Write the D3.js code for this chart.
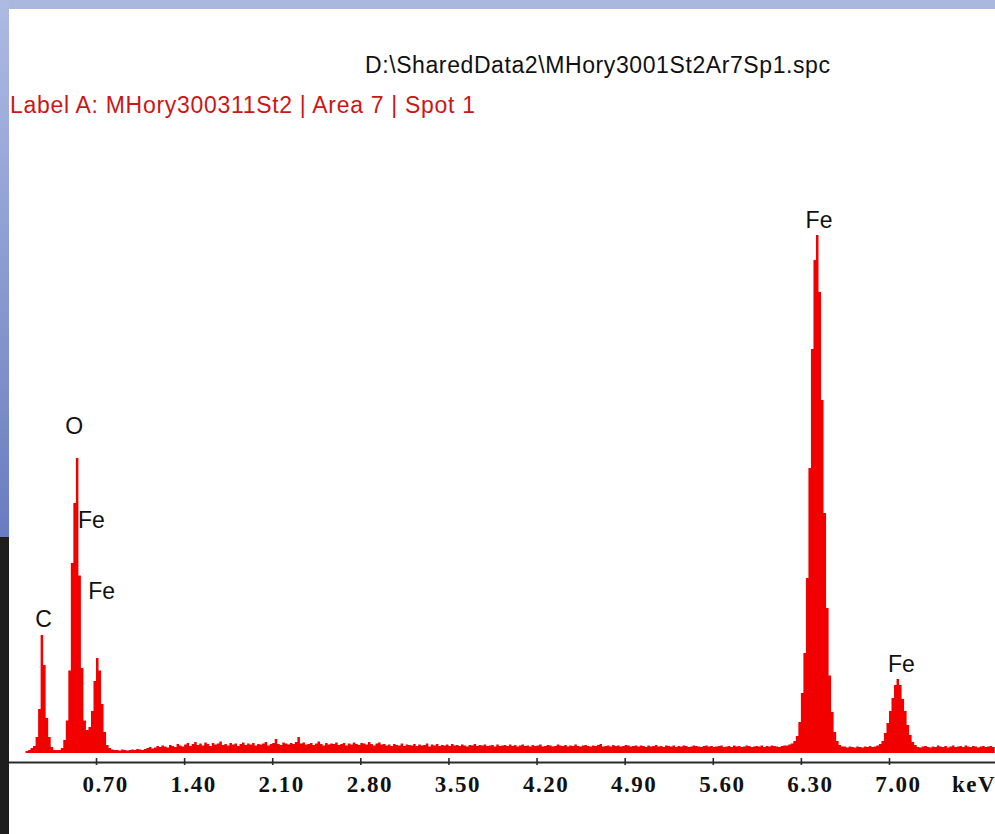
<!DOCTYPE html>
<html>
<head>
<meta charset="utf-8">
<script src="https://cdn.jsdelivr.net/npm/d3@7"></script>
<style>
  html, body { margin: 0; padding: 0; background: #fff; }
  svg { display: block; }
</style>
</head>
<body>
<svg id="chart" width="995" height="834"></svg>
<script>
// EDS spectrum, counts per 0.02 keV channel
const channelWidth = 0.02;

// 0.00 – 0.82 keV : C Kα, O Kα and Fe L lines
const lowStart = 0.00;
const lowCounts = [
  0, 0, 0, 0, 0, 0, 0, 8, 12, 20,
  28, 64, 176, 472, 352, 140, 64, 24, 12, 12,
  12, 20, 52, 130, 330, 760, 1000, 1180, 710, 340,
  130, 92, 104, 168, 288, 380, 330, 196, 84, 32,
  20
];

// 0.82 – 6.24 keV : continuum
const midStart = 0.82;
const midCounts = [
  14, 12, 12, 10, 14, 12, 10, 12, 14, 12,
  16, 14, 12, 16, 20, 24, 18, 22, 28, 24,
  30, 26, 22, 32, 28, 24, 36, 30, 26, 34,
  40, 28, 36, 44, 32, 38, 30, 42, 36, 28,
  40, 34, 38, 46, 32, 36, 30, 40, 34, 38,
  28, 36, 42, 32, 38, 34, 40, 30, 36, 34,
  38, 44, 30, 36, 40, 56, 36, 32, 42, 38,
  34, 40, 36, 44, 64, 38, 42, 34, 36, 40,
  32, 38, 46, 36, 30, 40, 34, 38, 36, 42,
  32, 36, 40, 30, 38, 34, 42, 36, 32, 40,
  38, 34, 44, 36, 30, 38, 42, 34, 36, 30,
  34, 28, 36, 32, 30, 38, 28, 34, 32, 30,
  36, 28, 34, 30, 32, 38, 26, 34, 30, 36,
  28, 32, 30, 34, 28, 36, 30, 32, 28, 34,
  30, 26, 32, 30, 36, 28, 32, 30, 34, 28,
  30, 32, 26, 34, 28, 30, 32, 28, 34, 28,
  32, 26, 30, 34, 28, 30, 26, 32, 28, 30,
  34, 26, 28, 32, 30, 26, 28, 34, 30, 28,
  32, 26, 30, 28, 34, 28, 26, 30, 32, 28,
  26, 30, 28, 32, 36, 26, 28, 30, 26, 32,
  28, 30, 26, 28, 32, 30, 26, 28, 30, 26,
  30, 28, 24, 30, 26, 28, 32, 26, 28, 24,
  30, 28, 26, 30, 24, 28, 26, 30, 28, 24,
  26, 30, 28, 26, 24, 28, 30, 26, 28, 24,
  26, 28, 30, 24, 26, 28, 24, 30, 26, 28,
  24, 26, 30, 28, 24, 26, 28, 26, 30, 24,
  28, 26, 30, 28, 26, 24, 28, 30, 30, 34,
  38
];

// 6.24 – 7.84 keV : Fe Kα and Fe Kβ
const highStart = 6.24;
const highCounts = [
  48, 68, 124, 240, 400, 700, 1140, 1616, 1972, 2072,
  1844, 1412, 960, 580, 310, 164, 84, 48,
  32, 26, 26, 22, 26, 24, 22, 26, 24, 22,
  26, 24, 28, 24, 26, 30, 36,
  48, 80, 120, 168, 220, 272, 296, 272, 216, 168,
  112, 72, 44,
  32, 24, 22, 26, 28, 24, 22, 26, 24, 30,
  26, 24, 28, 22, 26, 30, 24, 26, 28, 24,
  30, 26, 24, 28, 26, 22, 26, 28, 24, 26,
  28, 24
];

// Energy axis
const axisEnd = 7.84;
const tickValues = [0.70, 1.40, 2.10, 2.80, 3.50, 4.20, 4.90, 5.60, 6.30, 7.00];
const tickLabels = ["0.70", "1.40", "2.10", "2.80", "3.50", "4.20", "4.90", "5.60", "6.30", "7.00"];
const axisUnit = "keV";

// Element line labels: name, energy (keV), label height (counts)
const peakNames   = ["O", "Fe", "Fe", "C", "Fe", "Fe"];
const peakEnergy  = [0.527, 0.664, 0.744, 0.283, 6.444, 7.099];
const peakLabelAt = [1276, 900, 616, 504, 2100, 324];

const fileTitle = "D:\\SharedData2\\MHory3001St2Ar7Sp1.spc";
const sampleLabel = "Label A: MHory300311St2 | Area 7 | Spot 1";

// ---- build channel list ----
function channels(start, counts) {
  return counts.map((c, i) => ({ e: start + i * channelWidth, c }));
}
const spectrum = [
  ...channels(lowStart, lowCounts),
  ...channels(midStart, midCounts),
  ...channels(highStart, highCounts)
];
// close the final channel
spectrum.push({ e: highStart + highCounts.length * channelWidth, c: highCounts[highCounts.length - 1] });

const svg = d3.select("#chart");
const W = 995, H = 834;

// ---- frame / backdrop ----
const defs = svg.append("defs");
const grad = defs.append("linearGradient").attr("id", "sideBlue")
  .attr("x1", 0).attr("y1", 0).attr("x2", 0).attr("y2", 1);
grad.append("stop").attr("offset", "0%").attr("stop-color", "#adbbe2");
grad.append("stop").attr("offset", "100%").attr("stop-color", "#6a7cc0");

svg.append("rect").attr("x", 0).attr("y", 0).attr("width", W).attr("height", 10).attr("fill", "#aab7df");
svg.append("rect").attr("x", 0).attr("y", 0).attr("width", 9).attr("height", 537).attr("fill", "url(#sideBlue)");
svg.append("rect").attr("x", 0).attr("y", 537).attr("width", 9).attr("height", H - 537).attr("fill", "#1e1e1e");
svg.append("rect").attr("x", 9).attr("y", 9).attr("width", W - 9).attr("height", H - 9).attr("fill", "#ffffff");

// ---- scales ----
const x = d3.scaleLinear().domain([0, axisEnd]).range([7.9, 7.9 + axisEnd * 125.87]);
const y = d3.scaleLinear().domain([0, 2000]).range([753, 253]);

const plot = svg.append("g");
defs.append("clipPath").attr("id", "panelClip")
  .append("rect").attr("x", 9).attr("y", 9).attr("width", W - 9).attr("height", H - 9);
plot.attr("clip-path", "url(#panelClip)");

// ---- spectrum ----
const area = d3.area()
  .curve(d3.curveStepAfter)
  .x(d => x(d.e))
  .y0(y(0))
  .y1(d => y(d.c));

plot.append("path")
  .datum(spectrum)
  .attr("d", area)
  .attr("fill", "#f20000");

// ---- axis ----
const axis = d3.axisBottom(x)
  .tickValues(tickValues)
  .tickFormat((d, i) => tickLabels[i])
  .tickSizeOuter(0)
  .tickSizeInner(0)
  .tickPadding(0);

const gAxis = plot.append("g").attr("transform", "translate(0,762)").call(axis);
gAxis.select(".domain").attr("stroke", "#2a2a2a").attr("stroke-width", 1.8);
gAxis.selectAll(".tick line").attr("y1", -4).attr("y2", 3)
  .attr("stroke", "#2a2a2a").attr("stroke-width", 1.6);
gAxis.selectAll(".tick text")
  .attr("y", 30)
  .attr("dy", 0)
  .attr("dx", 9)
  .attr("fill", "#111")
  .style("font-family", "'Liberation Serif', 'Times New Roman', serif")
  .style("font-weight", "bold")
  .style("font-size", "23px")
  .style("letter-spacing", "1.5px");

gAxis.append("text")
  .attr("x", 952).attr("y", 30)
  .attr("text-anchor", "start")
  .attr("fill", "#111")
  .style("font-family", "'Liberation Serif', 'Times New Roman', serif")
  .style("font-weight", "bold")
  .style("font-size", "23px")
  .style("letter-spacing", "1.5px")
  .text(axisUnit);

// ---- element labels ----
plot.selectAll("text.peak")
  .data(peakNames)
  .join("text")
  .attr("class", "peak")
  .attr("x", (d, i) => x(peakEnergy[i]))
  .attr("y", (d, i) => y(peakLabelAt[i]))
  .attr("text-anchor", "middle")
  .attr("fill", "#111")
  .style("font-family", "'Liberation Sans', Arial, sans-serif")
  .style("font-size", "23px")
  .text(d => d);

// ---- header texts ----
svg.append("text")
  .attr("x", 365).attr("y", 73)
  .attr("textLength", 465).attr("lengthAdjust", "spacing")
  .attr("fill", "#111")
  .style("font-family", "'Liberation Sans', Arial, sans-serif")
  .style("font-size", "23px")
  .text(fileTitle);

svg.append("text")
  .attr("x", 10).attr("y", 113)
  .attr("textLength", 465).attr("lengthAdjust", "spacing")
  .attr("fill", "#cc1616")
  .style("font-family", "'Liberation Sans', Arial, sans-serif")
  .style("font-size", "23px")
  .text(sampleLabel);
</script>
</body>
</html>
